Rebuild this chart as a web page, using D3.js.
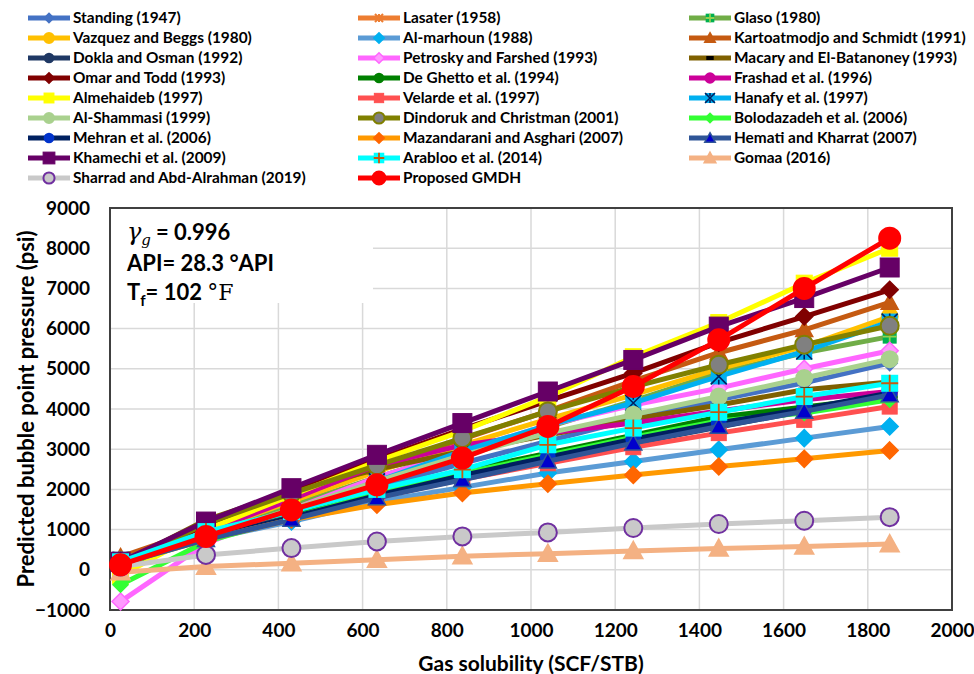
<!DOCTYPE html>
<html>
<head>
<meta charset="utf-8">
<script src="https://cdn.jsdelivr.net/npm/d3@7"></script>
<style>
  html, body { margin: 0; padding: 0; background: #fff; }
  svg { display: block; }
  text { font-family: Lato, "Open Sans", sans-serif; font-weight: bold; fill: #000; }
</style>
</head>
<body>
<svg id="chart" width="974" height="674"></svg>
<script>
// ---------------- DATA ----------------
const gasSolubility = [25, 228, 431, 634, 837, 1040, 1243, 1446, 1649, 1852];

const seriesNames = [
  "Standing (1947)", "Lasater (1958)", "Glaso (1980)",
  "Vazquez and Beggs (1980)", "Al-marhoun (1988)", "Kartoatmodjo and Schmidt (1991)",
  "Dokla and Osman (1992)", "Petrosky and Farshed (1993)", "Macary and El-Batanoney (1993)",
  "Omar and Todd (1993)", "De Ghetto et al. (1994)", "Frashad et al. (1996)",
  "Almehaideb (1997)", "Velarde et al. (1997)", "Hanafy et al. (1997)",
  "Al-Shammasi (1999)", "Dindoruk and Christman (2001)", "Bolodazadeh et al. (2006)",
  "Mehran et al. (2006)", "Mazandarani and Asghari (2007)", "Hemati and Kharrat (2007)",
  "Khamechi et al. (2009)", "Arabloo et al. (2014)", "Gomaa (2016)",
  "Sharrad and Abd-Alrahman (2019)", "Proposed GMDH"
];

const standing     = [200, 850, 1400, 2050, 2650, 3200, 3750, 4230, 4650, 5140];
const lasater      = [280, 900, 1400, 1900, 2350, 2800, 3250, 3650, 4000, 4320];
const glaso        = [200, 950, 1600, 2300, 2950, 3550, 4200, 4900, 5400, 5800];
const vazquez      = [50, 950, 1700, 2450, 3100, 3750, 4350, 5000, 5550, 6300];
const almarhoun    = [200, 750, 1200, 1700, 2050, 2410, 2695, 2985, 3275, 3565];
const kartoatmodjo = [320, 1050, 1800, 2550, 3250, 3950, 4700, 5400, 5970, 6650];
const dokla        = [150, 800, 1300, 1850, 2300, 2750, 3150, 3550, 3950, 4300];
const petrosky     = [-790, 650, 1500, 2300, 2950, 3600, 4100, 4520, 5000, 5450];
const macary       = [150, 1240, 1950, 2500, 2950, 3350, 3750, 4100, 4480, 4670];
const omarTodd     = [200, 1100, 1950, 2750, 3500, 4200, 4890, 5650, 6300, 6965];
const deGhetto     = [100, 800, 1350, 1950, 2450, 2900, 3350, 3800, 4050, 4300];
const frashad      = [150, 950, 1750, 2600, 3100, 3400, 3650, 3950, 4230, 4435];
const almehaideb   = [-150, 1000, 1850, 2700, 3450, 4300, 5300, 6150, 7130, 8000];
const velarde      = [200, 800, 1300, 1800, 2250, 2650, 3050, 3400, 3730, 4060];
const hanafy       = [250, 900, 1450, 2200, 2950, 3600, 4150, 4810, 5430, 6175];
const alShammasi   = [100, 850, 1500, 2200, 2850, 3400, 3860, 4310, 4770, 5240];
const dindoruk     = [100, 1150, 1900, 2600, 3275, 3940, 4550, 5100, 5600, 6070];
const bolodazadeh  = [-370, 700, 1300, 1900, 2400, 2850, 3300, 3700, 3900, 4230];
const mehran       = [150, 800, 1300, 1850, 2350, 2800, 3250, 3650, 4000, 4400];
const mazandarani  = [150, 750, 1250, 1620, 1910, 2140, 2360, 2570, 2760, 2970];
const hemati       = [150, 750, 1250, 1790, 2240, 2700, 3150, 3565, 3940, 4350];
const khamechi     = [200, 1200, 2030, 2860, 3650, 4435, 5220, 6050, 6760, 7520];
const arabloo      = [200, 950, 1450, 2000, 2490, 3110, 3525, 3920, 4310, 4640];
const gomaa        = [-60, 80, 165, 250, 340, 400, 470, 530, 580, 640];
const sharrad      = [80, 370, 540, 705, 830, 930, 1040, 1140, 1220, 1310];
const proposedGMDH = [125, 830, 1490, 2115, 2780, 3565, 4560, 5720, 7000, 8250];

const seriesValues = [standing, lasater, glaso, vazquez, almarhoun, kartoatmodjo,
  dokla, petrosky, macary, omarTodd, deGhetto, frashad, almehaideb, velarde, hanafy,
  alShammasi, dindoruk, bolodazadeh, mehran, mazandarani, hemati, khamechi, arabloo,
  gomaa, sharrad, proposedGMDH];

const xTicks = [0, 200, 400, 600, 800, 1000, 1200, 1400, 1600, 1800, 2000];
const yTicks = [-1000, 0, 1000, 2000, 3000, 4000, 5000, 6000, 7000, 8000, 9000];

// ---------------- STYLES ----------------
const styles = [
  {line: "#4472C4", shape: "diamond", fill: "#4472C4", stroke: "#4472C4", size: 15},
  {line: "#ED7D31", shape: "asterisk", fill: "none", stroke: "#ED7D31", size: 13},
  {line: "#70AD47", shape: "squarePlus", fill: "#00B050", stroke: "#00B050", size: 14, extra: "#92D050"},
  {line: "#FFC000", shape: "circle", fill: "#FFC000", stroke: "#FFC000", size: 16},
  {line: "#5B9BD5", shape: "diamond", fill: "#00B0F0", stroke: "#00B0F0", size: 17},
  {line: "#C55A11", shape: "triangle", fill: "#C55A11", stroke: "#C55A11", size: 17},
  {line: "#1F3864", shape: "circle", fill: "#1F3864", stroke: "#1F3864", size: 14},
  {line: "#FF66FF", shape: "diamond", fill: "#FF99FF", stroke: "#FF66FF", size: 17},
  {line: "#7F6000", shape: "dash", fill: "#000", stroke: "#000", size: 12},
  {line: "#800000", shape: "diamond", fill: "#800000", stroke: "#800000", size: 17},
  {line: "#008000", shape: "circle", fill: "#008000", stroke: "#008000", size: 14},
  {line: "#CC0099", shape: "circle", fill: "#CC0099", stroke: "#CC0099", size: 15},
  {line: "#FFFF00", shape: "square", fill: "#FFFF00", stroke: "#FFFF00", size: 16},
  {line: "#FF5050", shape: "square", fill: "#FF5050", stroke: "#FF5050", size: 15},
  {line: "#00B0F0", shape: "squareX", fill: "#00B0F0", stroke: "#00B0F0", size: 16, extra: "#002060"},
  {line: "#A9D18E", shape: "circle", fill: "#A9D18E", stroke: "#A9D18E", size: 16},
  {line: "#808000", shape: "circle", fill: "#808080", stroke: "#808000", size: 18},
  {line: "#33FF33", shape: "diamond", fill: "#33FF33", stroke: "#33FF33", size: 15},
  {line: "#002060", shape: "circle", fill: "#0033CC", stroke: "#0033CC", size: 14},
  {line: "#FF9900", shape: "diamond", fill: "#FF6600", stroke: "#FF6600", size: 17},
  {line: "#2F5597", shape: "triangle", fill: "#0000CC", stroke: "#2F5597", size: 17},
  {line: "#660066", shape: "square", fill: "#660066", stroke: "#660066", size: 19},
  {line: "#00FFFF", shape: "squarePlus", fill: "#00FFFF", stroke: "#00FFFF", size: 17, extra: "#C55A11"},
  {line: "#F4B183", shape: "triangle", fill: "#F4B183", stroke: "#F4B183", size: 19},
  {line: "#C9C9C9", shape: "circle", fill: "#C9C9C9", stroke: "#7030A0", size: 18},
  {line: "#FF0000", shape: "circle", fill: "#FF0000", stroke: "#FF0000", size: 21}
];

// ---------------- CHART ----------------
const svg = d3.select("#chart");
const plot = {left: 110, right: 952, top: 208, bottom: 610};

const x = d3.scaleLinear().domain([0, 2000]).range([plot.left, plot.right]);
const y = d3.scaleLinear().domain([-1000, 9000]).range([plot.bottom, plot.top]);

// gridlines
const grid = svg.append("g");
grid.selectAll("line.v").data(xTicks.slice(1, -1)).join("line")
  .attr("x1", d => x(d)).attr("x2", d => x(d))
  .attr("y1", plot.top).attr("y2", plot.bottom)
  .attr("stroke", "#D9D9D9").attr("stroke-width", 1.5);
grid.selectAll("line.h").data(yTicks.slice(1, -1)).join("line")
  .attr("y1", d => y(d)).attr("y2", d => y(d))
  .attr("x1", plot.left).attr("x2", plot.right)
  .attr("stroke", "#D9D9D9").attr("stroke-width", 1.5);

// annotation background box (covers grid)
svg.append("rect").attr("x", plot.left + 1).attr("y", plot.top + 1)
  .attr("width", 262).attr("height", 94).attr("fill", "#fff");

// axes
const xAxis = d3.axisBottom(x).tickValues(xTicks).tickSize(0).tickPadding(14).tickFormat(d3.format("d"));
const yAxis = d3.axisLeft(y).tickValues(yTicks).tickSize(0).tickPadding(20).tickFormat(d3.format("d"));
const gx = svg.append("g").attr("transform", `translate(0,${plot.bottom})`).call(xAxis);
const gy = svg.append("g").attr("transform", `translate(${plot.left},0)`).call(yAxis);
[gx, gy].forEach(g => {
  g.select(".domain").remove();
  g.selectAll("text").style("font-size", "19px").style("font-family", "Lato, sans-serif")
    .style("font-weight", "bold").attr("fill", "#000");
});

// frame
svg.append("rect").attr("x", plot.left).attr("y", plot.top)
  .attr("width", plot.right - plot.left).attr("height", plot.bottom - plot.top)
  .attr("fill", "none").attr("stroke", "#404040").attr("stroke-width", 2);

// axis titles
svg.append("text").attr("x", (plot.left + plot.right) / 2).attr("y", 671)
  .attr("text-anchor", "middle").style("font-size", "21px").text("Gas solubility (SCF/STB)");
svg.append("text").attr("transform", `translate(34,${(plot.top + plot.bottom) / 2}) rotate(-90)`)
  .attr("text-anchor", "middle").style("font-size", "22px").text("Predicted bubble point pressure (psi)");

// marker drawing
function drawMarker(g, st, cx, cy, scale) {
  const s = st.size * scale, h = s / 2;
  const m = g.append("g").attr("transform", `translate(${cx},${cy})`);
  switch (st.shape) {
    case "circle":
      m.append("circle").attr("r", h).attr("fill", st.fill).attr("stroke", st.stroke).attr("stroke-width", 2);
      break;
    case "square":
      m.append("rect").attr("x", -h).attr("y", -h).attr("width", s).attr("height", s)
        .attr("fill", st.fill).attr("stroke", st.stroke).attr("stroke-width", 1);
      break;
    case "diamond":
      m.append("path").attr("d", `M0,${-h}L${h},0L0,${h}L${-h},0Z`)
        .attr("fill", st.fill).attr("stroke", st.stroke).attr("stroke-width", 1.5);
      break;
    case "triangle":
      m.append("path").attr("d", `M0,${-h}L${h},${h * 0.8}L${-h},${h * 0.8}Z`)
        .attr("fill", st.fill).attr("stroke", st.stroke).attr("stroke-width", 1.5);
      break;
    case "dash":
      m.append("rect").attr("x", -h).attr("y", -2).attr("width", s).attr("height", 4).attr("fill", st.fill);
      break;
    case "asterisk":
      [[-h, -h, h, h], [-h, h, h, -h], [0, -h, 0, h]].forEach(l =>
        m.append("line").attr("x1", l[0]).attr("y1", l[1]).attr("x2", l[2]).attr("y2", l[3])
          .attr("stroke", st.stroke).attr("stroke-width", 2));
      break;
    case "squarePlus":
      m.append("rect").attr("x", -h).attr("y", -h).attr("width", s).attr("height", s).attr("fill", st.fill);
      m.append("path").attr("d", `M0,${-h}V${h}M${-h},0H${h}`).attr("stroke", st.extra).attr("stroke-width", 1.8);
      break;
    case "squareX":
      m.append("rect").attr("x", -h).attr("y", -h).attr("width", s).attr("height", s).attr("fill", st.fill);
      m.append("path").attr("d", `M${-h},${-h}L${h},${h}M${-h},${h}L${h},${-h}M0,${-h}V${-h*0.4}M0,${h}V${h*0.4}`)
        .attr("stroke", st.extra).attr("stroke-width", 1.6);
      break;
  }
}

// series
const line = d3.line().x(d => x(d[0])).y(d => y(d[1]));
const seriesG = svg.append("g");
seriesValues.forEach((vals, i) => {
  const st = styles[i];
  const pts = gasSolubility.map((gs, j) => [gs, vals[j]]);
  seriesG.append("path").attr("d", line(pts)).attr("fill", "none")
    .attr("stroke", st.line).attr("stroke-width", 5).attr("stroke-linejoin", "round");
  const mg = seriesG.append("g");
  pts.forEach(p => drawMarker(mg, st, x(p[0]), y(p[1]), 1));
});

// legend
const legCols = [28, 358, 689];
const legend = svg.append("g");
seriesNames.forEach((name, i) => {
  const col = i % 3, row = Math.floor(i / 3);
  const lx = legCols[col], ly = 18 + row * 20;
  const st = styles[i];
  legend.append("line").attr("x1", lx).attr("x2", lx + 42).attr("y1", ly).attr("y2", ly)
    .attr("stroke", st.line).attr("stroke-width", 5);
  drawMarker(legend, st, lx + 21, ly, 0.62);
  legend.append("text").attr("x", lx + 45).attr("y", ly + 5).style("font-size", "15.4px").text(name);
});

// annotation
const ann = svg.append("g");
const t1 = ann.append("text").attr("x", 127).attr("y", 240).style("font-size", "22px");
t1.append("tspan").style("font-family", "'DejaVu Serif', serif").style("font-style", "italic").style("font-weight", "normal").style("font-size", "24px").text("γ");
t1.append("tspan").attr("dy", 5).style("font-family", "'DejaVu Serif', serif").style("font-style", "italic").style("font-weight", "normal").style("font-size", "15px").text("g");
t1.append("tspan").attr("dy", -5).attr("dx", 5).text("= 0.996");
ann.append("text").attr("x", 127).attr("y", 271).style("font-size", "22px").text("API= 28.3 °API");
const t3 = ann.append("text").attr("x", 127).attr("y", 300).style("font-size", "22px");
t3.append("tspan").text("T");
t3.append("tspan").attr("dy", 6).style("font-size", "15px").text("f");
t3.append("tspan").attr("dy", -6).text("= 102 ");
t3.append("tspan").style("font-family", "'DejaVu Serif', serif").style("font-weight", "normal").text("°F");
</script>
</body>
</html>
